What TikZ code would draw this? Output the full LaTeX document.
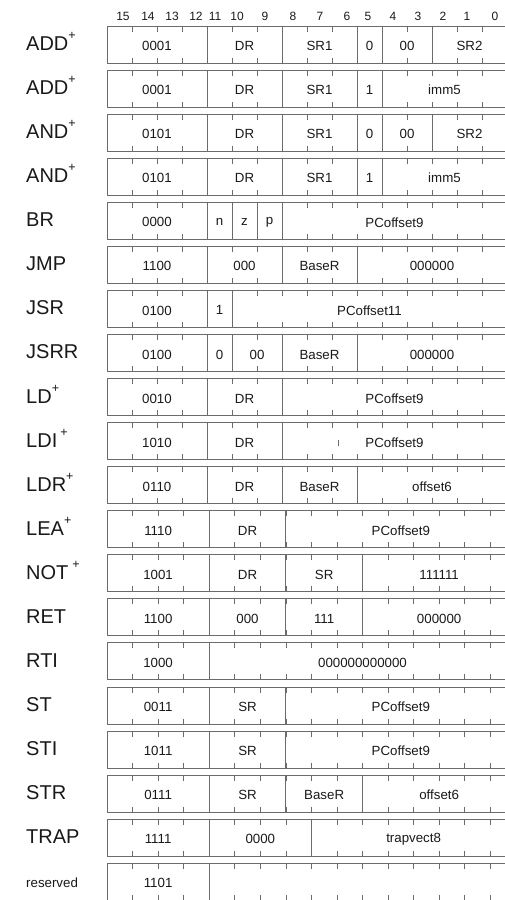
\documentclass[tikz,border=0pt]{standalone}
\usepackage{fontspec}
\setmainfont{Liberation Sans}
\usetikzlibrary{positioning}
\definecolor{rulegray}{gray}{0.42}
\definecolor{inkgray}{gray}{0.1}
\newcommand\opplus{\raisebox{11pt}{\fontsize{12.5}{12}\selectfont+}}
\tikzset{
  framebox/.style={draw=rulegray, line width=1pt},
  fieldline/.style={draw=rulegray, line width=0.9pt},
  bittick/.style={draw=rulegray, line width=0.7pt},
  opname/.style={anchor=base west, inner sep=0pt, text=inkgray, font=\fontsize{20}{22}\selectfont},
  fieldtxt/.style={inner sep=0pt, text=inkgray, font=\fontsize{13.3}{15}\selectfont},
  bitnum/.style={inner sep=0pt, text=inkgray, font=\fontsize{12}{14}\selectfont},
}
\begin{document}
\begin{tikzpicture}[x=1pt, y=-1pt]
    \useasboundingbox (0,0) rectangle (505,900);
    % bit numbers above the table
    \foreach \b/\x in {15/123, 14/148, 13/172, 12/196, 11/215, 10/237, 9/265, 8/293,
                       7/320, 6/347, 5/368, 4/393, 3/418, 2/443, 1/467, 0/495} {
        \node[bitnum] (bit\b) at (\x, 16) {\b};
    }
    % one row per instruction: index / bit width / name / fields hi/lo/text
    \foreach \r/\w/\op/\fields in {
        0/25/{ADD\opplus}/{15/12/0001, 11/9/DR, 8/6/SR1, 5/5/0, 4/3/00, 2/0/SR2},
        1/25/{ADD\opplus}/{15/12/0001, 11/9/DR, 8/6/SR1, 5/5/1, 4/0/imm5},
        2/25/{AND\opplus}/{15/12/0101, 11/9/DR, 8/6/SR1, 5/5/0, 4/3/00, 2/0/SR2},
        3/25/{AND\opplus}/{15/12/0101, 11/9/DR, 8/6/SR1, 5/5/1, 4/0/imm5},
        4/25/{BR}/{15/12/0000, 11/11/n, 10/10/z, 9/9/p, 8/0/PCoffset9},
        5/25/{JMP}/{15/12/1100, 11/9/000, 8/6/BaseR, 5/0/000000},
        6/25/{JSR}/{15/12/0100, 11/11/1, 10/0/PCoffset11},
        7/25/{JSRR}/{15/12/0100, 11/11/0, 10/9/00, 8/6/BaseR, 5/0/000000},
        8/25/{LD\opplus}/{15/12/0010, 11/9/DR, 8/0/PCoffset9},
        9/25/{LDI\hspace{3pt}\opplus}/{15/12/1010, 11/9/DR, 8/0/PCoffset9},
        10/25/{LDR\opplus}/{15/12/0110, 11/9/DR, 8/6/BaseR, 5/0/offset6},
        11/25.55/{LEA\opplus}/{15/12/1110, 11/9/DR, 8/0/PCoffset9},
        12/25.55/{NOT\hspace{4pt}\opplus}/{15/12/1001, 11/9/DR, 8/6/SR, 5/0/111111},
        13/25.55/{RET}/{15/12/1100, 11/9/000, 8/6/111, 5/0/000000},
        14/25.55/{RTI}/{15/12/1000, 11/0/000000000000},
        15/25.55/{ST}/{15/12/0011, 11/9/SR, 8/0/PCoffset9},
        16/25.55/{STI}/{15/12/1011, 11/9/SR, 8/0/PCoffset9},
        17/25.55/{STR}/{15/12/0111, 11/9/SR, 8/6/BaseR, 5/0/offset6},
        18/25.55/{TRAP}/{15/12/1111, 11/8/0000, 7/0/trapvect8},
        19/25.55/{\fontsize{13.3}{15}\selectfont reserved}/{15/12/1101, 11/0/{}}} {
        \pgfmathsetmacro\rowtop{26+44.07*\r}
        \pgfmathsetmacro\rowbot{\rowtop+37}
        \pgfmathsetmacro\rowmid{\rowtop+18.5}
        \pgfmathsetmacro\rowend{107+16*\w}
        \node[opname] (op\r) at (26, \rowmid+6) {\op};
        \draw[framebox] (107, \rowtop) rectangle (\rowend, \rowbot);
        \foreach \k in {1,...,15} {
            \draw[bittick] (107+\k*\w, \rowtop) -- ++(0, 5.5);
            \draw[bittick] (107+\k*\w, \rowbot) -- ++(0, -5.5);
        }
        \foreach \hi/\lo/\txt in \fields {
            \pgfmathsetmacro\xl{107+(15-\hi)*\w}
            \pgfmathsetmacro\xr{107+(16-\lo)*\w}
            \draw[fieldline] (\xr, \rowtop) -- (\xr, \rowbot);
            \node[fieldtxt] (f\r-\lo) at ({(\xl+\xr)/2}, \rowmid+1.5) {\txt};
        }
    }
    % stray mark in the LDI row
    \draw[bittick] (338, 440) -- (338, 446);
\end{tikzpicture}
\end{document}
